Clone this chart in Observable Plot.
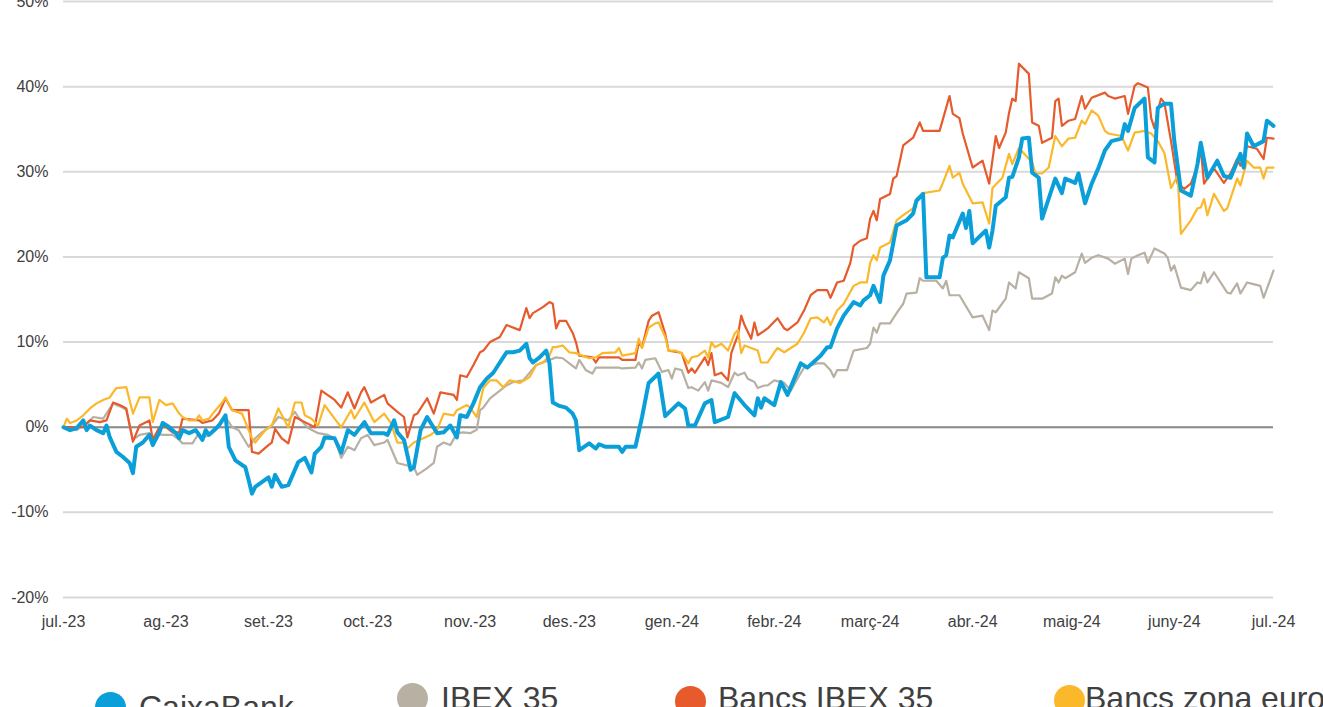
<!DOCTYPE html>
<html>
<head>
<meta charset="utf-8">
<script src="https://cdn.jsdelivr.net/npm/d3@7"></script>
<script src="https://cdn.jsdelivr.net/npm/@observablehq/plot@0.6"></script>
<style>
  html, body { margin: 0; padding: 0; background: #fff; overflow: hidden; }
  #wrap { position: relative; width: 1323px; height: 707px; font-family: "Liberation Sans", Arial, sans-serif; }
  #legend { position: relative; width: 1323px; height: 67px; }
  .dot { position: absolute; width: 31px; height: 31px; border-radius: 50%; }
  .lab { position: absolute; font-size: 32px; line-height: normal; color: #404040; white-space: nowrap; }
</style>
</head>
<body>
<div id="wrap"><div id="chart"></div><div id="legend"></div></div>
<script>
// ---- Data (day offset from 1 July 2023, % change) ----
const seriesNames = ["CaixaBank", "IBEX 35", "Bancs IBEX 35", "Bancs zona euro"];
const seriesColors = ["#0a9fd9", "#b8b0a3", "#e65a2b", "#fbb82a"];

const caixaBank = [[0,0],[2,-0.35],[4,-0.1],[6,0.8],[7,-0.35],[8,0.2],[10,-0.35],[12,-0.7],[13,0.2],[14,-1.2],[16,-2.9],[18,-3.5],[20,-4.2],[21,-5.4],[22,-2.3],[24,-1.8],[26,-0.9],[27,-2.1],[29,-0.6],[30,0.5],[32,0],[34,-0.7],[35,-1.3],[36,-0.35],[38,-0.7],[40,-0.35],[42,-1.5],[43,-0.35],[44,-0.9],[47,0.2],[49,1.4],[50,-2.3],[52,-3.9],[55,-4.7],[56,-6.2],[57,-7.8],[58,-7],[62,-5.9],[63,-7],[64,-5.6],[66,-7],[68,-6.8],[71,-4.1],[73,-3.6],[75,-5.3],[76,-3.1],[78,-2.3],[79,-1.2],[82,-1.3],[84,-3],[86,-0.35],[88,-0.9],[91,0.6],[93,-0.7],[97,-0.7],[98,-0.9],[100,0.8],[101,-0.6],[103,-1.5],[105,-5],[106,-4.7],[108,-0.35],[110,1.2],[113,-0.7],[115,-0.6],[117,0.2],[119,-1.2],[120,1.4],[122,1.2],[124,2.8],[126,4.7],[128,5.7],[130,6.4],[132,7.6],[134,8.8],[136,8.8],[138,9],[140,9.8],[141,8.1],[142,7.6],[144,8.2],[146,9],[147,7.5],[148,2.9],[150,2.5],[152,2.3],[154,1.6],[155,0.8],[156,-2.7],[159,-1.9],[161,-2.5],[162,-2],[164,-2.3],[168,-2.3],[169,-2.9],[170,-2.3],[173,-2.3],[175,1.2],[177,5.2],[180,6.3],[182,1.3],[186,2.8],[188,2.2],[189,0.2],[191,0.2],[194,2.8],[196,3.2],[197,0.6],[201,1.2],[203,4],[206,2.6],[209,1.4],[210,3.4],[211,2.3],[212,3.4],[215,2.6],[217,5.3],[219,3.8],[223,7.5],[225,7],[229,8.4],[231,9.4],[232,9.4],[234,11.6],[236,13.1],[239,14.7],[241,14.3],[242,14.9],[244,15.5],[245,16.6],[247,14.7],[248,17.8],[250,19.6],[252,23.7],[255,24.3],[257,25.1],[258,26.6],[260,27.4],[261,17.6],[265,17.6],[266,19.9],[267,20.2],[268,22.5],[269,22.3],[272,25.1],[273,23.4],[274,25.4],[275,21.6],[279,23.1],[280,21.1],[281,23.1],[282,26],[285,27],[286,29.3],[287,29.4],[289,31.7],[290,33.9],[292,34],[293,29.9],[295,29.3],[296,24.5],[300,29.2],[302,27.5],[303,29.2],[306,28.7],[307,29.8],[309,26.3],[311,28.6],[313,30.4],[315,32.5],[317,33.6],[320,33.9],[321,35.6],[322,34.8],[324,37.5],[327,38.6],[328,31.7],[330,31.1],[331,37.5],[333,38],[335,38],[336,33.6],[338,27.8],[341,27.2],[343,30.9],[344,33.4],[346,29.3],[349,31.3],[351,29.5],[353,29.3],[356,32.1],[357,30.5],[358,34.5],[360,33],[363,33.6],[364,36],[366,35.4]];

const ibex35 = [[0,0],[4,-0.35],[8,0.8],[9,1.2],[12,1.0],[15,2.8],[18,2.3],[19,2.0],[21,-1.5],[23,-0.9],[26,-0.7],[27,-1.3],[28,-0.8],[30,-0.9],[33,-0.9],[35,-1.5],[36,-1.9],[39,-1.9],[41,-0.7],[42,-1.3],[45,-0.7],[47,0],[49,1.2],[51,0],[53,-0.35],[56,-2.3],[58,-1.3],[60,-0.6],[63,0.2],[65,1.2],[68,0.8],[70,1.8],[71,1.2],[74,-0.1],[77,-0.7],[80,-0.9],[82,-1.3],[84,-3.6],[86,-2.3],[88,-2.7],[90,-1.3],[92,-0.9],[94,-2.1],[97,-1.8],[98,-1.5],[101,-4.2],[104,-4.5],[106,-4.7],[107,-5.6],[110,-4.8],[112,-4.2],[113,-2.3],[115,-1.8],[117,-2.1],[119,-0.7],[121,-0.6],[123,-0.7],[125,-0.3],[126,2],[127,2.3],[129,3.4],[132,4.3],[134,4.9],[136,5.3],[139,5.5],[141,6.4],[143,7.3],[145,7.6],[147,7.9],[149,8.2],[151,8.1],[153,7.5],[155,6.9],[156,7.9],[158,6.7],[160,6.3],[161,7],[168,7],[169,6.9],[173,7],[174,7.6],[175,6.9],[176,7.9],[179,8.1],[181,6.5],[183,6.7],[184,5.7],[185,6.9],[187,6.7],[189,4.6],[190,4.7],[192,4.3],[194,5.3],[195,4.3],[196,5.5],[199,5.2],[201,4.7],[203,6.4],[204,6.1],[206,6.4],[207,5.7],[209,5.3],[210,4.6],[212,4.9],[213,4.9],[215,5.5],[218,5.2],[220,4.3],[222,5.7],[224,7],[226,7.3],[228,7.5],[230,7.5],[232,6.7],[233,5.9],[234,6.7],[237,6.7],[239,9],[243,9.3],[244,9.8],[245,11.7],[246,11.1],[247,12.2],[250,12.2],[252,13.4],[254,14.5],[255,15.7],[258,15.8],[259,17.5],[260,17.2],[264,17.2],[266,16.3],[267,17.2],[268,15.5],[271,15.5],[275,12.9],[278,13.1],[280,11.4],[281,13.7],[282,13.5],[285,15.1],[286,17],[288,16.3],[289,18.2],[292,17.5],[293,15.1],[296,15.1],[299,15.7],[300,17.6],[301,17],[302,17.8],[303,17.5],[306,18.2],[308,20.4],[309,19.3],[311,19.9],[313,20.2],[316,19.8],[318,19.2],[321,19.8],[322,18],[323,19.8],[325,20.2],[327,20.5],[328,19.3],[330,21],[333,20.4],[334,19.9],[335,18.4],[336,19],[338,16.4],[341,16.1],[343,17],[344,16.9],[345,18.2],[346,17],[348,18.2],[352,15.8],[353,15.7],[355,16.9],[356,15.7],[358,17],[359,16.9],[362,16.6],[363,15.2],[366,18.4]];

const bancsIbex35 = [[0,0],[3,0],[6,0],[8,0.8],[11,0.6],[13,0.8],[15,2.9],[17,2.6],[19,2.2],[21,-1.7],[23,0.2],[26,0.8],[27,-1.5],[29,0],[31,0],[33,-0.6],[35,-0.6],[36,1],[41,0.8],[42,0.5],[45,0.8],[47,1.6],[49,3.4],[51,2],[56,2],[57,-2.9],[59,-3.1],[62,-2.1],[63,-1.8],[64,-0.2],[66,-1.3],[68,-1.9],[70,1.2],[73,0.6],[76,0],[78,4.3],[82,3.2],[84,2.3],[86,4.1],[88,2.2],[90,4.1],[91,4.7],[93,2.9],[97,3.8],[98,2.8],[101,1.8],[103,1.2],[104,-1.2],[106,1.4],[107,1.6],[110,3.4],[112,1.6],[114,4.1],[118,3.8],[119,3.2],[120,6.1],[122,5.9],[124,7.3],[126,8.8],[127,9],[129,10],[132,10.6],[134,12],[138,11.4],[140,14],[141,12.8],[142,13.4],[145,14.1],[147,14.7],[148,14.5],[149,11.6],[150,12.5],[152,12.5],[154,11.1],[155,10],[156,8.4],[160,8.2],[161,7.6],[162,8.2],[168,8.2],[169,7.9],[173,7.9],[174,10],[175,9.4],[177,12.5],[178,13.1],[180,13.5],[182,11],[183,9],[186,8.8],[187,8.7],[189,6.4],[190,6.9],[191,6.4],[194,8.2],[195,7.3],[196,8.7],[197,6.1],[199,6.4],[201,5.5],[202,8.7],[203,9.8],[204,10.8],[205,13.1],[206,12],[208,10.4],[209,12.3],[210,10.8],[213,11.6],[216,12.8],[218,11.6],[219,11.4],[222,12.3],[224,13.7],[226,15.5],[228,16.1],[231,16.1],[232,15.2],[234,17],[236,17.2],[238,19.3],[239,21.3],[241,21.9],[243,22.2],[244,24.5],[245,25.4],[246,24.3],[247,26.8],[250,27.4],[251,29.2],[252,29.5],[254,33.1],[257,34],[259,35.8],[260,34.8],[265,34.8],[268,38.9],[269,36.8],[271,36.3],[272,34.5],[275,30.5],[278,31.3],[280,28.6],[282,34.2],[283,32.8],[285,34.6],[286,36.9],[287,38.6],[288,38.3],[289,42.7],[292,41.5],[293,35.8],[295,35.4],[296,33.4],[299,34],[300,38.3],[301,38.6],[302,35.4],[304,36],[306,36.2],[308,38.9],[309,37.4],[311,38.7],[315,39.3],[316,38.9],[318,38.6],[321,38.9],[322,36.8],[324,40.1],[325,40.4],[328,39.9],[329,36.3],[330,35.1],[331,37.2],[332,38.6],[333,38.1],[335,33.6],[337,28.6],[339,28],[341,28.6],[343,30.7],[344,32.7],[345,28.6],[348,30.4],[351,28.7],[353,29.8],[355,31.5],[356,30.7],[358,33],[361,32.7],[363,31.5],[364,34],[366,33.9]];

const bancsZonaEuro = [[0,0],[1,1.0],[2,0.5],[4,0.8],[6,1.4],[8,2.2],[10,2.8],[12,3.2],[14,3.5],[15,4.1],[16,4.6],[19,4.7],[21,1.6],[23,3.5],[26,3.5],[27,0.6],[29,3.2],[31,2.6],[33,2.8],[35,1.6],[36,1.2],[38,0.8],[40,0.8],[41,1.4],[42,0.8],[44,1],[46,2],[48,2.9],[49,3.5],[51,2],[54,1.6],[57,-1.3],[58,-1.8],[61,-0.35],[63,0.2],[65,2.2],[68,0],[70,2.9],[72,2.9],[73,1.4],[75,1],[77,0.2],[79,2.6],[82,1],[84,0],[87,2],[88,1],[91,2.9],[94,0.6],[97,1.6],[99,0.5],[101,-1.8],[103,-1.8],[104,-2.5],[106,-1.8],[111,-0.9],[113,-0.35],[115,1.6],[118,1.4],[119,2],[122,2.6],[123,2.3],[125,1.2],[127,4.6],[129,5.5],[131,5.5],[133,4.7],[135,5.5],[138,5.2],[141,5.9],[143,7.3],[145,7.6],[147,8.4],[148,9.4],[149,9.4],[151,9.6],[153,8.8],[155,8.7],[159,8.1],[161,8.2],[163,8.7],[167,8.8],[168,9.3],[169,8.4],[173,8.7],[174,10.4],[175,9.3],[177,11.7],[179,12.2],[180,12.3],[182,10.6],[183,9],[185,9],[187,8.7],[189,7.5],[190,8.2],[192,8.4],[194,9],[195,8.2],[196,10],[197,9.4],[199,9.8],[201,9],[203,11],[204,11.4],[205,8.7],[206,9.6],[210,9],[211,7.6],[213,7.6],[215,8.8],[216,9.3],[218,8.8],[222,9.8],[224,11.1],[226,12.8],[228,12.9],[230,12.3],[231,12.9],[232,12],[234,13.7],[236,14.5],[239,16.6],[241,17],[243,17],[244,19.3],[245,20.2],[246,19.6],[247,21.1],[250,21.7],[252,24.3],[254,24.9],[257,25.7],[258,26.8],[260,27.5],[265,27.8],[266,28.7],[268,30.7],[269,29.3],[271,29.9],[272,28.6],[275,26.3],[278,26.4],[280,23.9],[281,28.1],[284,29.3],[286,32.1],[287,30.9],[289,32.8],[293,31.1],[294,29.8],[296,29.8],[298,30.5],[300,34.2],[302,33],[304,33.9],[306,34],[308,36],[309,35.6],[311,37.2],[313,36.6],[315,34.8],[316,34.5],[320,34.2],[322,32.5],[324,34.6],[327,34.8],[329,34.5],[331,33.6],[333,32.2],[335,28.1],[337,29.5],[338,22.7],[341,24.3],[343,25.7],[344,25.8],[345,26.8],[346,24.9],[348,27.4],[351,25.4],[352,25.7],[355,29.2],[356,28.4],[358,31.3],[360,30.5],[362,30.5],[363,29.2],[364,30.5],[366,30.5]];

const monthLabels = ["jul.-23","ag.-23","set.-23","oct.-23","nov.-23","des.-23","gen.-24","febr.-24","març-24","abr.-24","maig-24","juny-24","jul.-24"];
const yTicks = [-20, -10, 0, 10, 20, 30, 40, 50];

// ---- Build ----
const startMs = Date.UTC(2023, 6, 1);
const toDate = d => new Date(startMs + d * 864e5);
const monthDates = monthLabels.map((_, i) => new Date(Date.UTC(2023, 6 + i, 1)));
const labelByTime = new Map(monthDates.map((d, i) => [+d, monthLabels[i]]));

const seriesData = [caixaBank, ibex35, bancsIbex35, bancsZonaEuro];
const rows = seriesData.map((arr, k) => arr.map(([d, v]) => ({series: seriesNames[k], date: toDate(d), value: v})));

const lineOrder = [1, 2, 3, 0];
const widths = {0: 4, 1: 2.2, 2: 2.2, 3: 2.2};

const chart = Plot.plot({
  width: 1323,
  height: 640,
  marginTop: 1,
  marginBottom: 43,
  marginLeft: 63,
  marginRight: 50,
  style: {fontFamily: "'Liberation Sans', Arial, sans-serif", fontSize: "16px", color: "#404040", background: "#fff", overflow: "visible"},
  x: {type: "utc", domain: [monthDates[0], monthDates[monthDates.length - 1]]},
  y: {domain: [-20, 50]},
  marks: [
    Plot.ruleY(yTicks, {stroke: "#d9d9d9", strokeWidth: 2}),
    Plot.ruleY([0], {stroke: "#8c8c8c", strokeWidth: 2}),
    Plot.axisY({ticks: yTicks, tickFormat: d => d + "%", tickSize: 0, tickPadding: 15, label: null, fontSize: 16}),
    Plot.axisX({ticks: monthDates, tickFormat: d => labelByTime.get(+d), tickSize: 0, tickPadding: 18, label: null, fontSize: 16}),
    ...lineOrder.map(k => Plot.line(rows[k], {x: "date", y: "value", stroke: seriesColors[k], strokeWidth: widths[k], strokeLinejoin: "round"}))
  ]
});
document.getElementById("chart").appendChild(chart);

// ---- Legend ----
const legendPos = [
  {dotX: 95, dotY: 52, textX: 139, textY: 49},
  {dotX: 397, dotY: 43, textX: 441, textY: 40},
  {dotX: 675, dotY: 46, textX: 718, textY: 40},
  {dotX: 1054, dotY: 45, textX: 1085, textY: 40}
];
const legend = document.getElementById("legend");
seriesNames.forEach((name, i) => {
  const p = legendPos[i];
  const dot = document.createElement("div");
  dot.className = "dot";
  dot.style.left = p.dotX + "px";
  dot.style.top = p.dotY + "px";
  dot.style.background = seriesColors[i];
  legend.appendChild(dot);
  const lab = document.createElement("div");
  lab.className = "lab";
  lab.style.left = p.textX + "px";
  lab.style.top = p.textY + "px";
  lab.textContent = name;
  legend.appendChild(lab);
});
</script>
</body>
</html>
